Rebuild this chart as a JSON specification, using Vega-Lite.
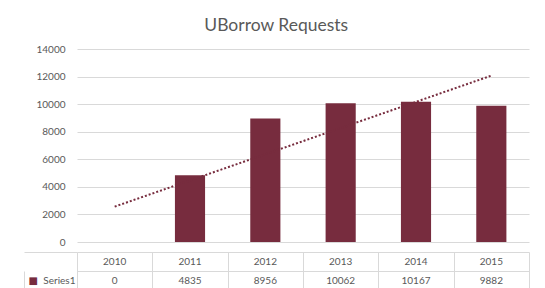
{
  "$schema": "https://vega.github.io/schema/vega-lite/v6.json",
  "padding": {"left": 23, "top": 16, "right": 10, "bottom": 4},
  "background": "white",
  "title": {"text": "UBorrow Requests", "font": "Lato", "fontSize": 17.5, "fontWeight": "normal", "color": "#595959", "anchor": "middle", "offset": 10},
  "data": {"values": [
    {"year": 2010, "requests": 0},
    {"year": 2011, "requests": 4835},
    {"year": 2012, "requests": 8956},
    {"year": 2013, "requests": 10062},
    {"year": 2014, "requests": 10167},
    {"year": 2015, "requests": 9882}
  ]},
  "spacing": 0,
  "vconcat": [
    {
      "width": 452,
      "height": 193,
      "encoding": {
        "x": {"field": "year", "type": "ordinal", "scale": {"domain": [2010, 2011, 2012, 2013, 2014, 2015], "paddingInner": 0, "paddingOuter": 0}, "axis": null},
        "y": {"field": "requests", "type": "quantitative", "scale": {"domain": [0, 14000], "nice": false},
              "axis": {"values": [0, 2000, 4000, 6000, 8000, 10000, 12000, 14000], "format": "d", "labelOverlap": false, "grid": true, "gridColor": "#d9d9d9", "ticks": false, "domain": false, "labelColor": "#595959", "labelFont": "Lato", "labelFontSize": 10, "labelPadding": 12, "title": null}}
      },
      "layer": [
        {
          "mark": {"type": "bar", "color": "#772C3E", "width": {"band": 0.4}}
        },
        {
          "transform": [{"regression": "requests", "on": "year"}],
          "mark": {"type": "line", "color": "#772C3E", "strokeWidth": 2, "strokeDash": [2, 2], "strokeCap": "butt"}
        }
      ]
    },
    {
      "width": 452,
      "height": 38,
      "layer": [
        {
          "mark": {"type": "text", "font": "Lato", "fontSize": 10, "color": "#595959", "baseline": "middle"},
          "encoding": {
            "x": {"field": "year", "type": "ordinal", "scale": {"domain": [2010, 2011, 2012, 2013, 2014, 2015], "paddingInner": 0, "paddingOuter": 0},
                  "axis": {"grid": true, "tickBand": "extent", "gridColor": "#d9d9d9", "labels": false, "ticks": false, "domain": false, "title": null}},
            "y": {"datum": "header", "type": "ordinal", "scale": {"domain": ["header", "Series1"], "paddingInner": 0, "paddingOuter": 0},
                  "axis": {"title": "■", "titleAngle": 0, "titleX": 4, "titleY": 28.5, "titleAlign": "left", "titleBaseline": "middle", "titleColor": "#772C3E", "titleFont": "DejaVu Sans", "titleFontSize": 10, "titleFontWeight": "normal",
                           "labelExpr": "datum.value === 'Series1' ? 'Series1' : ''", "labelColor": "#595959", "labelFont": "Lato", "labelFontSize": 10, "labelPadding": 2,
                           "grid": true, "gridColor": "#d9d9d9", "tickBand": "extent", "tickSize": -53, "offset": 53,
                           "tickColor": {"condition": {"test": "datum.value === 'header'", "value": "transparent"}, "value": "#d9d9d9"},
                           "domain": true, "domainColor": "#d9d9d9", "domainDash": [19, 19], "domainDashOffset": 19}},
            "text": {"field": "year", "type": "nominal"}
          }
        },
        {
          "mark": {"type": "text", "font": "Lato", "fontSize": 10, "color": "#595959", "baseline": "middle"},
          "encoding": {
            "x": {"field": "year", "type": "ordinal"},
            "y": {"datum": "Series1", "type": "ordinal"},
            "text": {"field": "requests", "type": "nominal"}
          }
        }
      ]
    }
  ],
  "config": {"view": {"stroke": null}}
}
